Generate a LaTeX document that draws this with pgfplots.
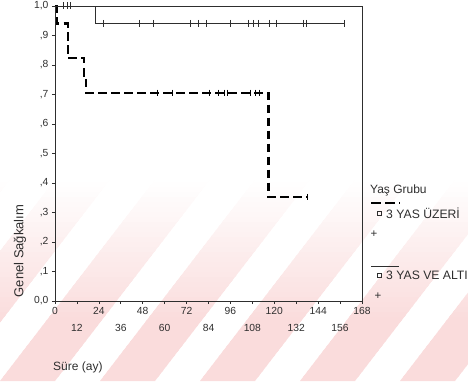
\documentclass[border=0pt]{standalone}
\usepackage{fontspec}
\setmainfont{Liberation Sans}
\usepackage{pgfplots}
\pgfplotsset{compat=1.18}
\definecolor{ink}{HTML}{2E2E2E}
\definecolor{stripe}{HTML}{FADCDC}
\begin{document}
\begin{tikzpicture}[x=1pt,y=1pt]
\useasboundingbox (0pt,0pt) rectangle (468pt,381pt);
% watermark stripes
\foreach \k in {0,...,40} {
  \pgfmathtruncatemacro\pct{max(0,min(100,100-(\k-12)*3.6))}
  \begin{scope}
    \clip (0pt,\k*5pt) rectangle (468pt,\k*5pt+5.2pt);
    \foreach \i in {-3,...,5} {
      \fill[stripe!\pct!white] (\i*100pt,0pt) -- ++(55pt,0pt) -- ++(300pt,390pt) -- ++(-55pt,0pt) -- cycle;
    }
  \end{scope}
}
\begin{axis}[
  at={(55pt,80pt)}, anchor=south west, scale only axis,
  width=307pt, height=295pt,
  xmin=0, xmax=168, ymin=0, ymax=1,
  clip=false,
  axis line style={ink, line width=0.8pt},
  tick style={ink, line width=0.6pt},
  tick align=outside, tick pos=left, major tick length=3pt,
  xtick={0,24,48,72,96,120,144,168},
  xticklabels={0,24,48,72,96,120,144,168},
  extra x ticks={12,36,60,84,108,132,156},
  extra x tick labels={12,36,60,84,108,132,156},
  extra x tick style={tick label style={yshift=-17pt}},
  ytick={0,0.1,0.2,0.3,0.4,0.5,0.6,0.7,0.8,0.9,1},
  yticklabels={{0,0},{,1},{,2},{,3},{,4},{,5},{,6},{,7},{,8},{,9},{1,0}},
  tick label style={font=\fontsize{10.3}{12}\selectfont, text=ink},
]
% 3 YAS UZERI (dashed)
\addplot[const plot, black, line width=2.4pt, dash pattern=on 8.5pt off 4.5pt] coordinates {
  (0,1) (1,0.941) (7,0.824) (16,0.765) (17,0.706) (116.8,0.353) (138,0.353)
};
\addplot[only marks, mark=|, mark size=3pt, mark options={line width=0.8pt, black}] coordinates {
  (56,0.706) (64.4,0.706) (84.4,0.706) (89.3,0.706) (92.5,0.706) (94.3,0.706)
  (106.7,0.706) (109.5,0.706) (111.9,0.706) (138,0.353)
};
% 3 YAS VE ALTI (solid)
\addplot[const plot, ink, line width=0.9pt] coordinates {
  (0,1) (22,0.941) (158.2,0.941)
};
\addplot[only marks, mark=|, mark size=3.5pt, mark options={line width=0.7pt, ink}] coordinates {
  (4.4,1) (6.6,1) (8.2,1)
  (26.4,0.941) (46,0.941) (53.8,0.941) (73.9,0.941) (78.4,0.941) (83,0.941)
  (95.8,0.941) (105.8,0.941) (108.5,0.941) (111.3,0.941) (117.3,0.941)
  (120.9,0.941) (135.9,0.941) (137.8,0.941) (158.2,0.941)
};
\end{axis}
% axis titles
\node[rotate=90, text=ink, font=\fontsize{13}{15}\selectfont] at (20pt,130pt) {Genel Sağkalım};
\node[anchor=west, text=ink, font=\fontsize{12}{14}\selectfont, inner sep=0pt] at (53pt,14pt) {Süre (ay)};
% legend
\node[anchor=west, text=ink, font=\fontsize{12}{14}\selectfont, inner sep=0pt] at (370pt,191pt) {Yaş Grubu};
\draw[black, line width=2.4pt, dash pattern=on 10pt off 4pt] (371pt,178pt) -- (400pt,178pt);
\draw[ink, line width=0.9pt] (377pt,166pt) rectangle (381pt,170pt);
\node[anchor=west, text=ink, font=\fontsize{12.2}{14}\selectfont, inner sep=0pt] at (386pt,168pt) {3 YAS ÜZERİ};
\node[text=ink, font=\fontsize{11.5}{12}\selectfont, inner sep=0pt] at (374pt,147pt) {+};
\draw[ink, line width=0.9pt] (371pt,115pt) -- (399pt,115pt);
\draw[ink, line width=0.9pt] (377pt,104pt) rectangle (381pt,108pt);
\node[anchor=west, text=ink, font=\fontsize{12.2}{14}\selectfont, inner sep=0pt] at (386pt,106pt) {3 YAS VE ALTI};
\node[text=ink, font=\fontsize{11.5}{12}\selectfont, inner sep=0pt] at (378pt,85pt) {+};
\end{tikzpicture}
\end{document}
